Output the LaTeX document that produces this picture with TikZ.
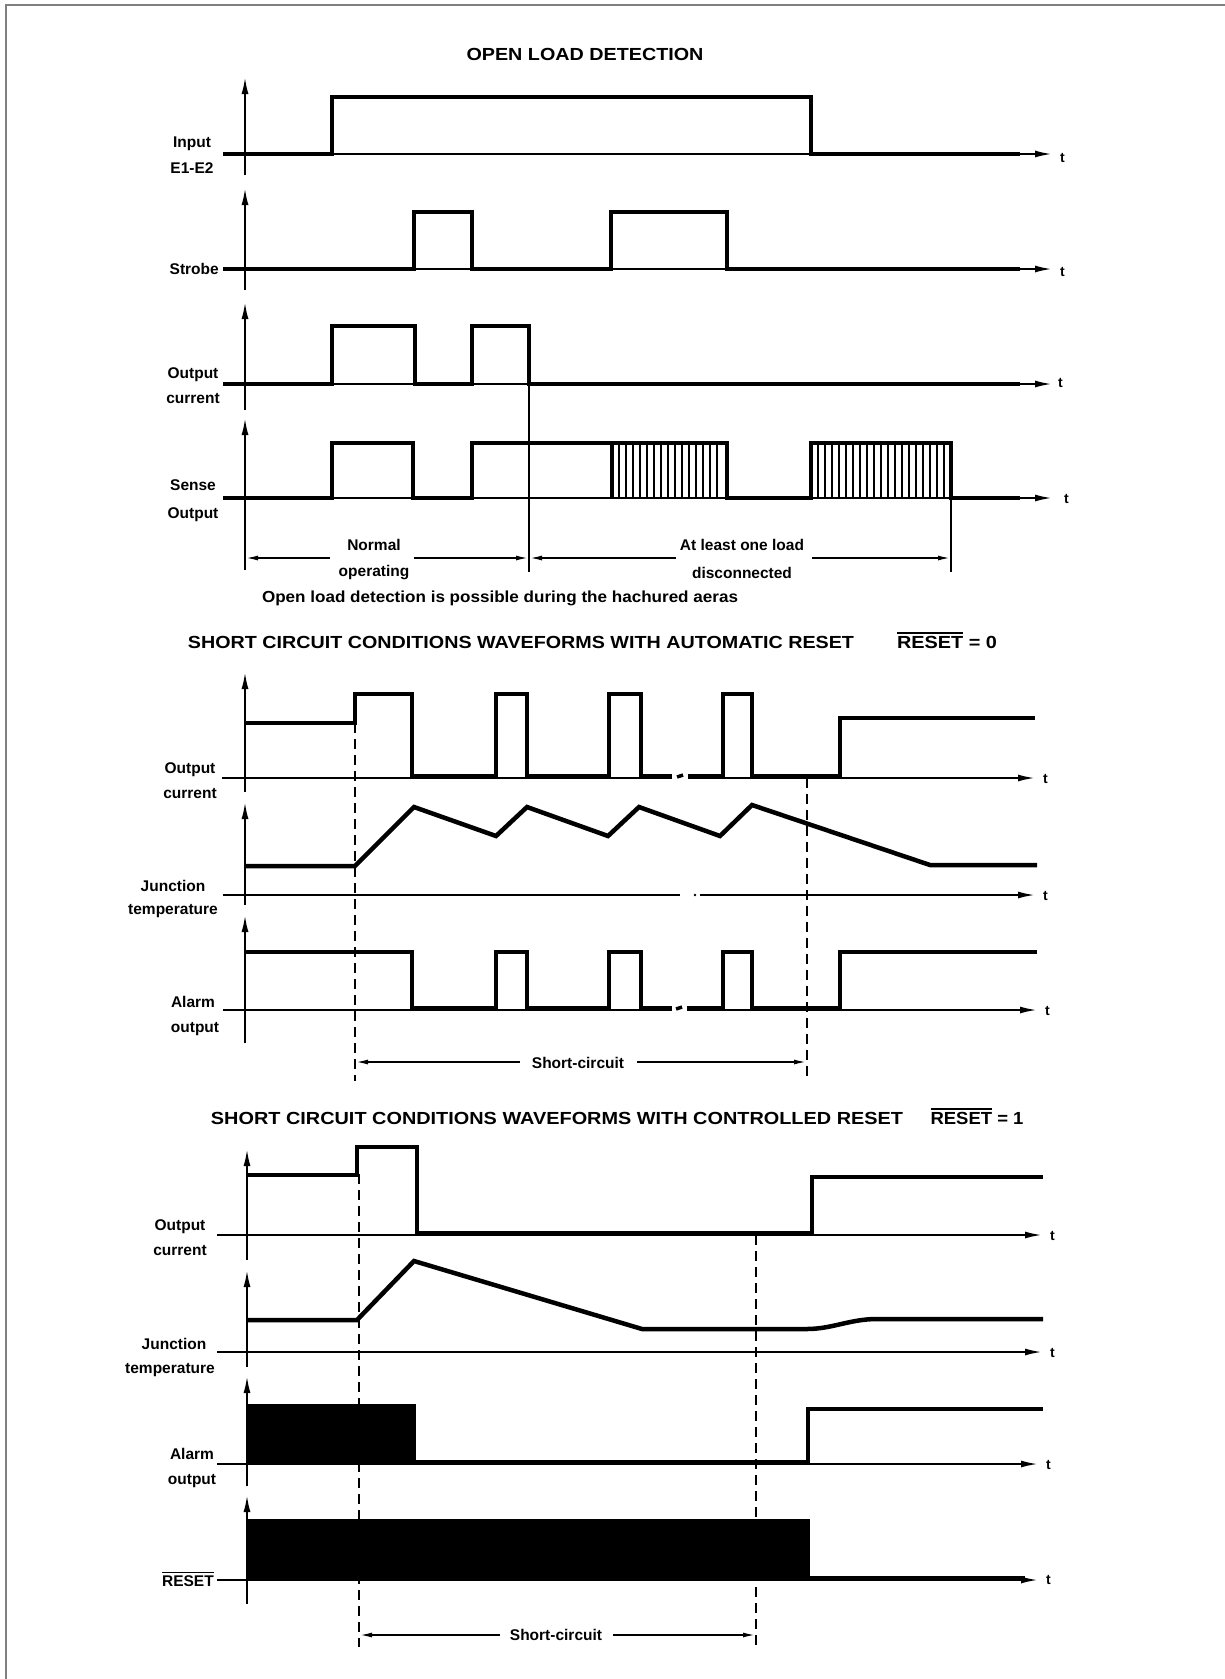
\documentclass[tikz,border=0pt]{standalone}
\usepackage{fontspec}
\setmainfont{Liberation Sans}
\usetikzlibrary{arrows.meta}
\newcommand{\wt}[2]{\resizebox{#1pt}{\height}{#2}}
\newsavebox{\ovlbox}
\newcommand{\ovl}[1]{\sbox{\ovlbox}{#1}\rlap{\rule[\dimexpr\ht\ovlbox+2pt\relax]{\wd\ovlbox}{1.4pt}}\usebox{\ovlbox}}
\begin{document}
\begin{tikzpicture}[x=1pt,y=-1pt,
  sig/.style={line width=4pt, line join=miter, line cap=butt},
  axln/.style={line width=2pt},
  axarr/.style={line width=2pt,-{Latex[length=17pt,width=7pt]}},
  lab/.style={font=\fontsize{15.5}{18}\selectfont\bfseries, inner sep=0pt, anchor=base},
  ttl/.style={font=\fontsize{17.5}{20}\selectfont\bfseries, inner sep=0pt, anchor=base},
  dimln/.style={line width=1.5pt},
  dimarr/.style={line width=1.5pt,-{Latex[length=12pt,width=5pt]}},
  vdash/.style={line width=2pt,dash pattern=on 10pt off 6pt},
  tl/.style={font=\fontsize{14}{16}\selectfont\bfseries, inner sep=0pt, anchor=base west},
  hatch/.style={line width=1.3pt}
]
\useasboundingbox (0,0) rectangle (1225,1679);
% frame
\draw[line width=2pt, color=black!50] (6,1679) -- (6,5) -- (1225,5);

% ================= OPEN LOAD DETECTION =================
\node[ttl] (title1) at (585,60) {\wt{237}{OPEN LOAD DETECTION}};

% Input
\draw[axarr] (245,175) -- (245,77);
\draw[axarr] (223,154) -- (1052,154);
\draw[sig] (223,154) -- (332,154) -- (332,97) -- (811,97) -- (811,154) -- (1020,154);
\node[lab] (lin1) at (192,147) {Input};
\node[lab] (lin2) at (192,173) {E1-E2};
\node[tl] (tin) at (1060,162) {t};

% Strobe
\draw[axarr] (245,290) -- (245,188);
\draw[axarr] (223,269) -- (1052,269);
\draw[sig] (223,269) -- (414,269) -- (414,212) -- (472,212) -- (472,269) -- (611,269) -- (611,212) -- (727,212) -- (727,269) -- (1020,269);
\node[lab, anchor=base east] (lstr) at (219,274) {Strobe};
\node[tl] (tstr) at (1060,276) {t};

% Output current
\draw[axarr] (245,410) -- (245,302);
\draw[axarr] (223,384) -- (1052,384);
\draw[sig] (223,384) -- (332,384) -- (332,326) -- (415,326) -- (415,384) -- (472,384) -- (472,326) -- (529,326) -- (529,384) -- (1020,384);
\node[lab] (loc1) at (193,378) {Output};
\node[lab] (loc2) at (193,403) {current};
\node[tl] (toc) at (1058,387) {t};

% Sense output
\draw[axarr] (245,570) -- (245,418);
\draw[axarr] (223,498) -- (1052,498);
\draw[sig] (223,498) -- (332,498) -- (332,443) -- (413,443) -- (413,498) -- (472,498) -- (472,443) -- (727,443) -- (727,498) -- (811,498) -- (811,443) -- (951,443) -- (951,498) -- (1020,498);
\draw[sig] (612,443) -- (612,498);
\foreach \x in {619,626,...,721} \draw[hatch] (\x,443) -- (\x,498);
\foreach \x in {818,825,...,945} \draw[hatch] (\x,443) -- (\x,498);
\node[lab] (lso1) at (193,490) {Sense};
\node[lab] (lso2) at (193,518) {Output};
\node[tl] (tso) at (1064,503) {t};

% verticals and dimensions
\draw[dimln] (529,384) -- (529,572);
\draw[dimln] (951,498) -- (951,572);
\draw[dimarr] (330,558) -- (246,558);
\draw[dimarr] (414,558) -- (528,558);
\draw[dimarr] (676,558) -- (530,558);
\draw[dimarr] (812,558) -- (950,558);
\node[lab] (dn1) at (374,550) {Normal};
\node[lab] (dn2) at (374,576) {operating};
\node[lab] (dd1) at (742,550) {At least one load};
\node[lab] (dd2) at (742,578) {disconnected};

\node[lab, font=\fontsize{16}{18}\selectfont\bfseries] (note) at (500,602) {\wt{476}{Open load detection is possible during the hachured aeras}};

% ================= AUTOMATIC RESET =================
\node[ttl] (title2) at (521,648) {\wt{666}{SHORT CIRCUIT CONDITIONS WAVEFORMS WITH AUTOMATIC RESET}};
\node[ttl] (rst0) at (947,648) {\wt{100}{\ovl{RESET} = 0}};

% Output current
\draw[axarr] (245,792) -- (245,672);
\draw[axarr] (222,778) -- (1035,778);
\draw[sig] (245,723) -- (355,723) -- (355,694) -- (412,694) -- (412,776) -- (496,776) -- (496,694) -- (527,694) -- (527,776) -- (609,776) -- (609,694) -- (641,694) -- (641,776) -- (723,776) -- (723,694) -- (752,694) -- (752,776) -- (840,776) -- (840,718) -- (1035,718);
\fill[white] (672,770) rectangle (688,782);
\draw[line width=3.5pt] (677,777) -- (683,775);
\node[lab] (aoc1) at (190,773) {Output};
\node[lab] (aoc2) at (190,798) {current};
\node[tl] (taoc) at (1043,783) {t};

% Junction temperature
\draw[axarr] (245,905) -- (245,802);
\draw[axarr] (223,895) -- (1035,895);
\fill[white] (680,891) rectangle (700,899);
\fill (695,895) circle (1.3pt);
\draw[line width=4.5pt, line join=miter] (245,866) -- (355,866) -- (414,807) -- (496,836) -- (527,807) -- (608,836) -- (639,807) -- (720,836) -- (752,805) -- (930,865) -- (1037,865);
\node[lab] (ajt1) at (173,891) {Junction};
\node[lab] (ajt2) at (173,914) {temperature};
\node[tl] (tajt) at (1043,900) {t};

% Alarm output
\draw[axarr] (245,1043) -- (245,915);
\draw[axarr] (223,1010) -- (1037,1010);
\draw[sig] (245,952) -- (412,952) -- (412,1008) -- (496,1008) -- (496,952) -- (527,952) -- (527,1008) -- (609,1008) -- (609,952) -- (641,952) -- (641,1008) -- (723,1008) -- (723,952) -- (752,952) -- (752,1008) -- (840,1008) -- (840,952) -- (1037,952);
\fill[white] (672,1002) rectangle (687,1014);
\draw[line width=3.5pt] (676,1009) -- (682,1007);
\node[lab] (aao1) at (193,1007) {Alarm};
\node[lab] (aao2) at (195,1032) {output};
\node[tl] (taao) at (1045,1015) {t};

% dashed + dimension
\draw[vdash] (355,723) -- (355,1081);
\draw[vdash] (807,778) -- (807,1081);
\draw[dimarr] (520,1062) -- (356,1062);
\draw[dimarr] (637,1062) -- (806,1062);
\node[lab] (asc) at (578,1068) {Short-circuit};

% ================= CONTROLLED RESET =================
\node[ttl] (title3) at (557,1124) {\wt{692}{SHORT CIRCUIT CONDITIONS WAVEFORMS WITH CONTROLLED RESET}};
\node[ttl] (rst1) at (977,1124) {\wt{93}{\ovl{RESET} = 1}};

% Output current
\draw[axarr] (247,1260) -- (247,1149);
\draw[axarr] (217,1235) -- (1042,1235);
\draw[sig] (247,1175) -- (357,1175) -- (357,1147) -- (417,1147) -- (417,1233) -- (812,1233) -- (812,1177) -- (1043,1177);
\node[lab] (coc1) at (180,1230) {Output};
\node[lab] (coc2) at (180,1255) {current};
\node[tl] (tcoc) at (1050,1240) {t};

% Junction temperature
\draw[axarr] (247,1367) -- (247,1270);
\draw[axarr] (217,1352) -- (1042,1352);
\draw[line width=4.5pt, line join=miter] (247,1320) -- (357,1320) -- (414,1261) -- (642,1329) -- (807,1329) .. controls (832,1329) and (850,1319) .. (877,1319) -- (1043,1319);
\node[lab] (cjt1) at (174,1349) {Junction};
\node[lab] (cjt2) at (170,1373) {temperature};
\node[tl] (tcjt) at (1050,1357) {t};

% Alarm output
\draw[axarr] (247,1486) -- (247,1376);
\draw[axarr] (217,1464) -- (1038,1464);
\fill (247,1404) rectangle (416,1464);
\draw[sig] (416,1462) -- (808,1462) -- (808,1409) -- (1043,1409);
\node[lab] (cao1) at (192,1459) {Alarm};
\node[lab] (cao2) at (192,1484) {output};
\node[tl] (tcao) at (1046,1469) {t};

% RESET
\draw[axarr] (247,1604) -- (247,1495);
\draw[axarr] (217,1580) -- (1038,1580);
\fill (247,1519) rectangle (810,1580);
\draw[sig] (810,1578) -- (1025,1578);
\node[lab, anchor=base east] (crs) at (214,1586) {\ovl{RESET}};
\node[tl] (tcrs) at (1046,1584) {t};

% dashed + dimension
\draw[vdash] (359,1174) -- (359,1647);
\draw[vdash] (756,1235) -- (756,1647);
\draw[dimarr] (500,1635) -- (360,1635);
\draw[dimarr] (613,1635) -- (755,1635);
\node[lab] (csc) at (556,1640) {Short-circuit};
\end{tikzpicture}
\end{document}
